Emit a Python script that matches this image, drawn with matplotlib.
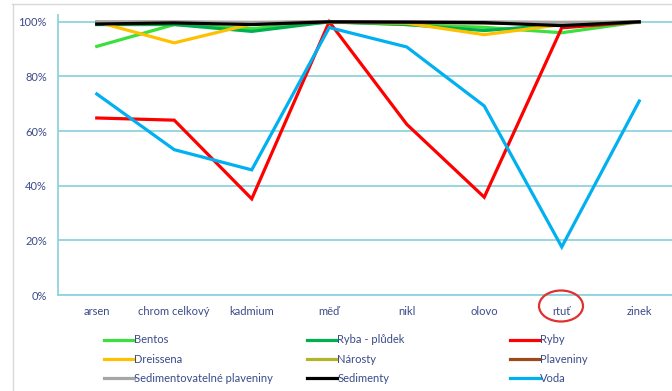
import matplotlib
matplotlib.use('Agg')
import matplotlib.pyplot as plt
from matplotlib.lines import Line2D
from matplotlib.patches import Ellipse
from matplotlib.ticker import PercentFormatter

plt.rcParams['font.family'] = ['Lato', 'DejaVu Sans']

kovy = ['arsen', 'chrom celkový', 'kadmium', 'měď', 'nikl', 'olovo', 'rtuť', 'zinek']

bentos = [91.0, 99.0, 97.5, 100.0, 99.0, 98.0, 96.0, 100.0]
ryba_pludek = [99.0, 99.0, 96.5, 100.0, 99.0, 96.8, 99.0, 100.0]
ryby = [64.8, 64.0, 35.2, 100.0, 62.5, 35.8, 97.8, 100.0]
dreissena = [100.0, 92.3, 99.2, 100.0, 99.5, 95.3, 99.0, 100.0]
narosty = [100.0, 100.0, 100.0, 100.0, 100.0, 100.0, 100.0, 100.0]
plaveniny = [99.8, 99.8, 99.6, 100.0, 99.8, 99.6, 99.2, 100.0]
sed_plaveniny = [100.0, 100.0, 99.8, 100.0, 100.0, 100.0, 99.8, 100.0]
sedimenty = [99.2, 99.6, 99.0, 100.0, 99.9, 99.7, 98.6, 100.0]
voda = [73.6, 53.2, 45.8, 97.9, 90.8, 69.2, 17.6, 71.0]

serie = [
    ('Bentos', bentos, '#3ce03c'),
    ('Ryba - plůdek', ryba_pludek, '#00b050'),
    ('Ryby', ryby, '#ff0000'),
    ('Dreissena', dreissena, '#ffc000'),
    ('Nárosty', narosty, '#b4b42a'),
    ('Plaveniny', plaveniny, '#9c4a1a'),
    ('Sedimentovatelné plaveniny', sed_plaveniny, '#a6a6a6'),
    ('Sedimenty', sedimenty, '#000000'),
    ('Voda', voda, '#00b0f0'),
]

text_col = '#3b4a8a'
grid_col = '#8fd3de'

fig = plt.figure(figsize=(6.72, 3.91), dpi=100)
ax = fig.add_axes([58 / 672, 1 - 295 / 391, 620 / 672, 280 / 391])

x = range(len(kovy))
handles = []
for nazev, hodnoty, barva in serie:
    h, = ax.plot(x, [v / 100 for v in hodnoty], color=barva, lw=2.3,
                 label=nazev, solid_joinstyle='miter', clip_on=False)
    handles.append(h)

ax.set_xlim(-0.5, len(kovy) - 0.5)
ax.set_ylim(0, 1.025)
ax.set_yticks([0, 0.2, 0.4, 0.6, 0.8, 1.0])
ax.yaxis.set_major_formatter(PercentFormatter(1.0, decimals=0))
ax.set_xticks(list(x))
ax.set_xticklabels(kovy)
ax.tick_params(axis='both', length=0, colors=text_col, labelsize=8)
ax.tick_params(axis='y', pad=8)
ax.tick_params(axis='x', pad=8)
ax.grid(axis='y', color=grid_col, lw=1.3)
ax.set_axisbelow(True)
for s in ['top', 'right']:
    ax.spines[s].set_visible(False)
for s in ['left', 'bottom']:
    ax.spines[s].set_color(grid_col)
    ax.spines[s].set_linewidth(1.3)

# legenda ve třech sloupcích
sloupce = [(100, [0, 3, 6]), (303, [1, 4, 7]), (506, [2, 5, 8])]
for x0, idx in sloupce:
    leg = fig.legend([handles[i] for i in idx], [serie[i][0] for i in idx],
                     loc='upper left', bbox_to_anchor=(x0 / 672, 1 - 330 / 391),
                     frameon=False, fontsize=8, handlelength=2.7,
                     handletextpad=0.0, labelspacing=0.75, borderaxespad=0)
    for t in leg.get_texts():
        t.set_color(text_col)

# zvýraznění rtuti
fig.add_artist(Ellipse((561 / 672, 1 - 306 / 391), 44 / 672, 31 / 391,
                       transform=fig.transFigure, fill=False,
                       edgecolor='#e03030', lw=1.6))

# rámeček
fig.add_artist(Line2D([12 / 672, 1], [1 - 4 / 391] * 2,
                      transform=fig.transFigure, color='#d9d9d9', lw=1))
fig.add_artist(Line2D([13 / 672] * 2, [0, 1 - 4 / 391],
                      transform=fig.transFigure, color='#d9d9d9', lw=1))

fig.savefig('out.png', dpi=100)
